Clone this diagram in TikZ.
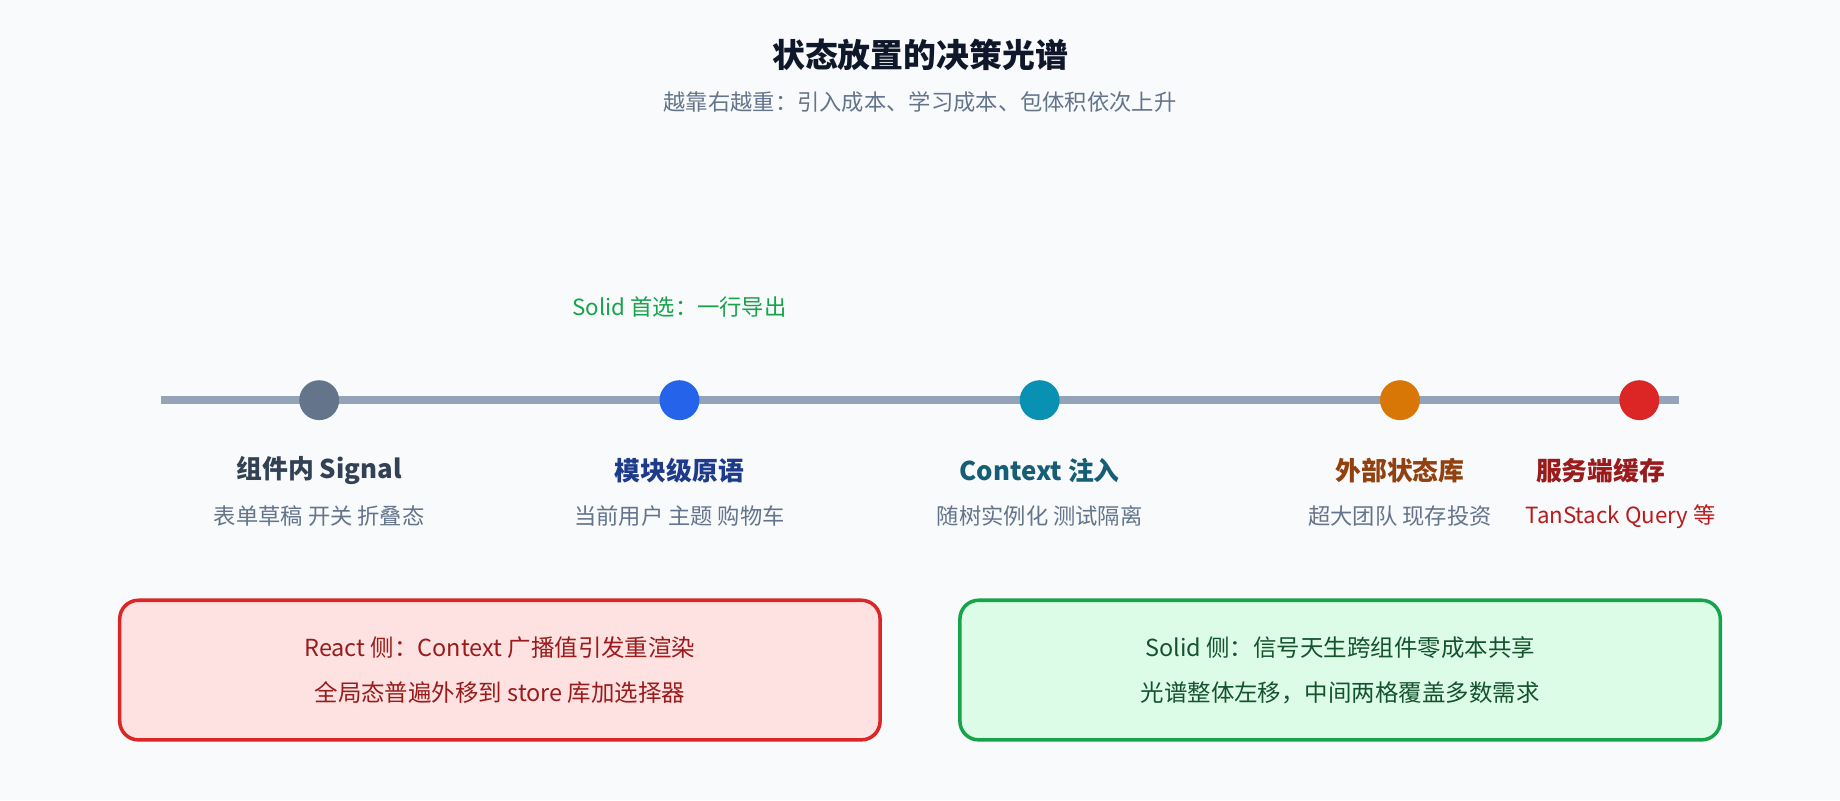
\documentclass[tikz,border=0pt]{standalone}
\usepackage{fontspec}
\setmainfont{Noto Sans CJK SC}
\definecolor{bg}{HTML}{F8FAFC}
\definecolor{c64}{HTML}{64748B}
\definecolor{line}{HTML}{94A3B8}
\definecolor{blue}{HTML}{2563EB}
\definecolor{cyan}{HTML}{0891B2}
\definecolor{amber}{HTML}{D97706}
\definecolor{red}{HTML}{DC2626}
\definecolor{green}{HTML}{16A34A}
\definecolor{t1}{HTML}{334155}
\definecolor{t2}{HTML}{1E3A8A}
\definecolor{t3}{HTML}{155E75}
\definecolor{t4}{HTML}{92400E}
\definecolor{t5}{HTML}{991B1B}
\definecolor{s5c}{HTML}{B91C1C}
\definecolor{rfill}{HTML}{FEE2E2}
\definecolor{gfill}{HTML}{DCFCE7}
\definecolor{gtext}{HTML}{14532D}
\definecolor{ttl}{HTML}{0F172A}
\begin{document}
\begin{tikzpicture}[x=0.5pt,y=-0.5pt,
  dot/.style={circle,minimum size=17pt,inner sep=0pt},
  lab/.style={font=\fontsize{11}{13}\selectfont\bfseries},
  sub/.style={font=\fontsize{9.5}{11}\selectfont,text=c64},
  box/.style={draw,line width=1.5pt,rounded corners=8pt,minimum width=324pt,minimum height=59.5pt,align=center,font=\fontsize{10}{19}\selectfont}]
\fill[bg] (0,0) rectangle (1568,682);
\useasboundingbox (0,0) rectangle (1568,682);
\node[font=\fontsize{14}{16}\selectfont\bfseries,text=ttl] (title) at (784,47) {状态放置的决策光谱};
\node[sub] (subt) at (784,87) {越靠右越重：引入成本、学习成本、包体积依次上升};
\coordinate (l0) at (137,341); \coordinate (l1) at (1431,341);
\draw[line,line width=3.5pt] (l0) -- (l1);
\node[dot,fill=c64] (d1) at (272,341) {};
\node[dot,fill=blue] (d2) at (579,341) {};
\node[dot,fill=cyan] (d3) at (886,341) {};
\node[dot,fill=amber] (d4) at (1193,341) {};
\node[dot,fill=red] (d5) at (1397,341) {};
\node[font=\fontsize{9.5}{11}\selectfont,text=green] (solid) at (579,262) {Solid 首选：一行导出};
\node[lab,text=t1] (n1) at (272,401) {组件内 Signal};
\node[lab,text=t2] (n2) at (579,401) {模块级原语};
\node[lab,text=t3] (n3) at (886,401) {Context 注入};
\node[lab,text=t4] (n4) at (1193,401) {外部状态库};
\node[lab,text=t5] (n5) at (1364,401) {服务端缓存};
\node[sub] (s1) at (272,440) {表单草稿 开关 折叠态};
\node[sub] (s2) at (579,440) {当前用户 主题 购物车};
\node[sub] (s3) at (886,440) {随树实例化 测试隔离};
\node[sub] (s4) at (1193,440) {超大团队 现存投资};
\node[sub,text=s5c] (s5) at (1381,440) {TanStack Query 等};
\node[box,draw=red,fill=rfill,text=t5] (b1) at (426,571) {React 侧：Context 广播值引发重渲染\\全局态普遍外移到 store 库加选择器};
\node[box,draw=green,fill=gfill,text=gtext] (b2) at (1142,571) {Solid 侧：信号天生跨组件零成本共享\\光谱整体左移，中间两格覆盖多数需求};
\end{tikzpicture}
\end{document}
